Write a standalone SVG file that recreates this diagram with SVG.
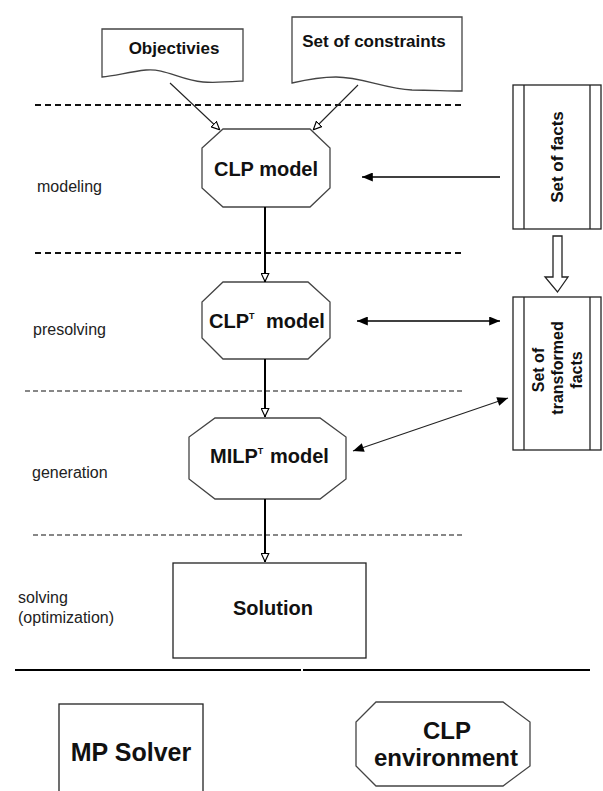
<svg xmlns="http://www.w3.org/2000/svg" width="603" height="791" viewBox="0 0 603 791">
<style>
.bg{fill:#fff}
.shape{fill:#fff;stroke:#444;stroke-width:1.3}
.box{fill:#fff;stroke:#222;stroke-width:1.3}
.t{font-family:"Liberation Sans",Arial,sans-serif;font-weight:bold;fill:#111;text-anchor:middle}
.lbl{font-family:"Liberation Sans",Arial,sans-serif;font-size:16px;fill:#222}
.dash1{stroke:#111;stroke-width:2;stroke-dasharray:6 4;fill:none}
.dash2{stroke:#111;stroke-width:1.1;stroke-dasharray:5 3;fill:none}
.thin{stroke:#222;stroke-width:1.1;fill:none}
.thick{stroke:#000;stroke-width:2;fill:none}
.mid{stroke:#000;stroke-width:1.6;fill:none}
</style>
<defs>
<marker id="open" viewBox="0 0 10 10" refX="10" refY="5" markerWidth="9" markerHeight="9" orient="auto" markerUnits="userSpaceOnUse">
<path d="M0.5,0.8 L9.5,5 L0.5,9.2 Z" fill="#fff" stroke="#000" stroke-width="1.3"/>
</marker>
<marker id="fill" viewBox="0 0 12 10" refX="12" refY="5" markerWidth="13" markerHeight="9" orient="auto-start-reverse" markerUnits="userSpaceOnUse">
<path d="M0,0 L12,5 L0,10 Z" fill="#000"/>
</marker>
</defs>
<rect class="bg" x="0" y="0" width="603" height="791"/>

<g id="phases">
<line class="dash1" x1="35" y1="105" x2="465" y2="105"/>
<line class="dash1" x1="35" y1="253" x2="465" y2="253"/>
<line class="dash2" x1="25" y1="391" x2="465" y2="391"/>
<line class="dash2" x1="33" y1="535" x2="465" y2="535"/>
<line class="thick" x1="15" y1="670" x2="301" y2="670"/>
<line class="thick" x1="303" y1="670" x2="590" y2="670"/>
<text class="lbl" x="37" y="192">modeling</text>
<text class="lbl" x="33" y="335">presolving</text>
<text class="lbl" x="32" y="478">generation</text>
<text class="lbl" x="18" y="603">solving</text>
<text class="lbl" x="18" y="623">(optimization)</text>
</g>

<g id="objectives">
<path class="shape" d="M102,29 H243 V81 C228,82 215,83 203,82 C180,80 165,68 146,70 C128,72 115,76 102,77 Z"/>
<text class="t" x="174" y="54" font-size="17">Objectivies</text>
</g>

<g id="constraints">
<path class="shape" d="M292,17 H462 V91 C448,91 430,90 412,90 C385,89 362,77 336,77 C318,77 305,80 292,83 Z"/>
<text class="t" x="374" y="47" font-size="17">Set of constraints</text>
</g>

<g id="clp-model">
<polygon class="shape" points="223,129 310,129 330,148 330,188 310,207 223,207 202,188 202,148"/>
<text class="t" x="266" y="176" font-size="20">CLP model</text>
</g>

<g id="clpt-model">
<polygon class="shape" points="223,282 308,282 330,302 330,338 308,359 223,359 202,338 202,302"/>
<text class="t" x="209" y="328" font-size="20" style="text-anchor:start">CLP<tspan font-size="9" dy="-9">T</tspan><tspan x="266" dy="9">model</tspan></text>
</g>

<g id="milpt-model">
<polygon class="shape" points="215,418 320,418 346,437 346,479 320,499 215,499 189,479 189,437"/>
<text class="t" x="210" y="463" font-size="20" style="text-anchor:start">MILP<tspan font-size="9" dy="-9">T</tspan><tspan x="270" dy="9">model</tspan></text>
</g>

<g id="solution">
<rect class="box" x="173" y="563" width="193" height="95"/>
<text class="t" x="273" y="615" font-size="20">Solution</text>
</g>

<g id="set-of-facts">
<rect class="box" x="513" y="85" width="88" height="144"/>
<line class="box" x1="524" y1="85" x2="524" y2="229"/>
<line class="box" x1="590" y1="85" x2="590" y2="229"/>
<text class="t" font-size="17" transform="translate(563,157) rotate(-90)">Set of facts</text>
</g>

<g id="set-of-transformed-facts">
<rect class="box" x="513" y="297" width="88" height="153"/>
<line class="box" x1="524" y1="297" x2="524" y2="450"/>
<line class="box" x1="590" y1="297" x2="590" y2="450"/>
<text class="t" font-size="16" transform="translate(544,370) rotate(-90)">Set of</text>
<text class="t" font-size="16" transform="translate(563,368) rotate(-90)">transformed</text>
<text class="t" font-size="16" transform="translate(582,370) rotate(-90)">facts</text>
</g>

<g id="mp-solver">
<rect class="box" x="59" y="704" width="144" height="100"/>
<text class="t" x="131" y="761" font-size="25">MP Solver</text>
</g>

<g id="clp-environment">
<polygon class="shape" points="376,702 503,702 530,722 530,766 503,786 376,786 356,766 356,722"/>
<text class="t" x="447" y="739" font-size="24">CLP</text>
<text class="t" x="446" y="766" font-size="24">environment</text>
</g>

<g id="connectors">
<line class="thin" x1="170" y1="83" x2="220" y2="130" marker-end="url(#open)"/>
<line class="thin" x1="358" y1="85" x2="313" y2="130" marker-end="url(#open)"/>
<line class="thick" x1="265" y1="207" x2="265" y2="282" marker-end="url(#open)"/>
<line class="thick" x1="265" y1="359" x2="265" y2="417" marker-end="url(#open)"/>
<line class="thick" x1="265" y1="499" x2="265" y2="562" marker-end="url(#open)"/>
<line class="mid" x1="500" y1="177" x2="362" y2="177" marker-end="url(#fill)"/>
<line class="mid" x1="357" y1="321" x2="500" y2="321" marker-start="url(#fill)" marker-end="url(#fill)"/>
<line class="thin" x1="353" y1="451" x2="508" y2="398" marker-start="url(#fill)" marker-end="url(#fill)"/>
<path class="box" d="M553,236 H562 V277 H568 L557.5,292 L545,277 H553 Z"/>
</g>
</svg>
